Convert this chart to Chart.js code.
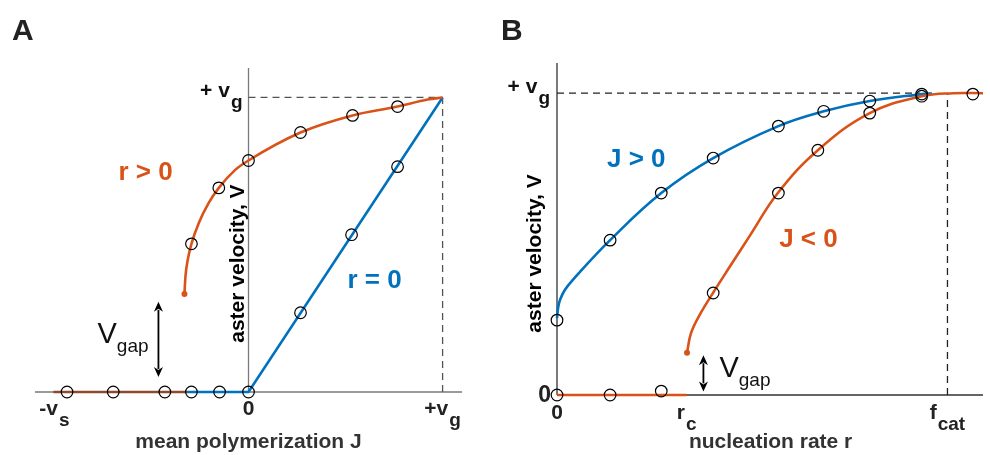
<!DOCTYPE html>
<html>
<head>
<meta charset="utf-8">
<script src="https://cdn.jsdelivr.net/npm/chart.js@4.4.0/dist/chart.umd.min.js"></script>
<style>
  html, body { margin: 0; padding: 0; background: #fff; }
  #wrap { position: relative; width: 990px; height: 455px; }
  .panel { position: absolute; top: 0; height: 455px; }
  #pa { left: 0; width: 490px; }
  #pb { left: 490px; width: 500px; }
</style>
</head>
<body>
<div id="wrap">
  <div class="panel" id="pa"><canvas id="chA"></canvas></div>
  <div class="panel" id="pb"><canvas id="chB"></canvas></div>
</div>
<script>
(function () {
  "use strict";

  // ---- panel A : aster velocity V vs mean polymerization J (units of v_g) ----
  var aCurveJ = [-0.330, -0.325, -0.313, -0.294, -0.256, -0.205, -0.153, -0.067, 0, 0.268, 0.536, 0.768, 0.923, 1];
  var aCurveV = [0.333, 0.391, 0.449, 0.503, 0.574, 0.642, 0.693, 0.755, 0.786, 0.881, 0.939, 0.969, 0.993, 1];
  var aLineJ = [-0.316, 0, 1];
  var aLineV = [0, 0, 1];
  var aStallJ = [-1.005, -0.316];
  var aStallV = [0, 0];
  var aSimJ = [-0.935, -0.697, -0.431, -0.294, -0.149, 0, -0.294, -0.153, 0, 0.268, 0.536, 0.768, 0.268, 0.531, 0.768];
  var aSimV = [0, 0, 0, 0, 0, 0, 0.503, 0.693, 0.786, 0.881, 0.939, 0.969, 0.269, 0.534, 0.765];
  var aTickVal = [-1, 0, 1];
  var aTickMain = ["-v", "0", "+v"];
  var aTickSub = ["s", "", "g"];
  var aGapJ = -0.464;
  var aGapV = [0.306, 0.051];

  // ---- panel B : aster velocity V vs nucleation rate r (units of f_cat) ----
  var bPlusR = [0, 0.003, 0.0076, 0.020, 0.040, 0.136, 0.267, 0.4, 0.567, 0.683, 0.801, 0.934, 0.96];
  var bPlusV = [0.255, 0.290, 0.315, 0.348, 0.381, 0.513, 0.669, 0.785, 0.891, 0.940, 0.974, 0.997, 1];
  var bMinusR = [0.333, 0.343, 0.364, 0.400, 0.444, 0.494, 0.566, 0.668, 0.801, 0.934, 1.015, 1.091];
  var bMinusV = [0.140, 0.204, 0.262, 0.339, 0.428, 0.528, 0.670, 0.811, 0.934, 0.990, 1, 1];
  var rc = 0.332;
  var bStallR = [0, rc];
  var bStallV = [0, 0];
  var bSimR = [0, 0.136, 0.267, 0, 0.136, 0.267, 0.4, 0.567, 0.683, 0.801, 0.934, 1.065, 0.4, 0.567, 0.668, 0.801, 0.934];
  var bSimV = [0, 0, 0.013, 0.248, 0.513, 0.669, 0.785, 0.891, 0.940, 0.974, 0.997, 0.997, 0.338, 0.669, 0.811, 0.934, 0.990];
  var bTickVal = [0, rc, 1];
  var bTickMain = ["0", "r", "f"];
  var bTickSub = ["", "c", "cat"];
  var bGapR = 0.375;
  var bGapV = [0.132, 0.012];

  var ORANGE = "#d95319", BLUE = "#0072bd", BROWN = "#8e4a2c";
  var FONT = "'Liberation Sans', Arial, Helvetica, sans-serif";

  function pts(xs, ys) {
    return xs.map(function (x, i) { return { x: x, y: ys[i] }; });
  }
  function font(size, bold) { return (bold ? "bold " : "") + size + "px " + FONT; }

  // text with a subscript, aligned as a group
  function subText(ctx, main, sub, x, y, o) {
    ctx.font = font(o.size, o.bold);
    var w1 = ctx.measureText(main).width;
    ctx.font = font(o.sub, o.bold);
    var w2 = sub ? ctx.measureText(sub).width : 0;
    var g = sub ? (o.gap || 0) : 0;
    var x0 = x;
    if (o.align === "center") x0 = x - (w1 + g + w2) / 2;
    else if (o.align === "right") x0 = x - (w1 + g + w2);
    ctx.textAlign = "left";
    ctx.textBaseline = "alphabetic";
    ctx.fillStyle = o.color || "#222";
    ctx.font = font(o.size, o.bold);
    ctx.fillText(main, x0, y);
    if (sub) {
      ctx.font = font(o.sub, o.bold);
      ctx.fillText(sub, x0 + w1 + g, y + o.drop);
    }
  }

  function dblArrow(ctx, x, yTop, yBot) {
    var h = 10, w = 4.5;
    ctx.save();
    ctx.strokeStyle = "#000";
    ctx.fillStyle = "#000";
    ctx.lineWidth = 1.8;
    ctx.beginPath(); ctx.moveTo(x, yTop + h - 2); ctx.lineTo(x, yBot - h + 2); ctx.stroke();
    ctx.beginPath(); ctx.moveTo(x, yTop); ctx.lineTo(x - w, yTop + h); ctx.lineTo(x, yTop + h - 3); ctx.lineTo(x + w, yTop + h); ctx.closePath(); ctx.fill();
    ctx.beginPath(); ctx.moveTo(x, yBot); ctx.lineTo(x - w, yBot - h); ctx.lineTo(x, yBot - h + 3); ctx.lineTo(x + w, yBot - h); ctx.closePath(); ctx.fill();
    ctx.restore();
  }

  function rotText(ctx, txt, x, y, size) {
    ctx.save();
    ctx.translate(x, y);
    ctx.rotate(-Math.PI / 2);
    ctx.font = font(size, true);
    ctx.fillStyle = "#000";
    ctx.textAlign = "center";
    ctx.textBaseline = "middle";
    ctx.fillText(txt, 0, 0);
    ctx.restore();
  }

  function deco(cfg) {
    return {
      id: "deco" + cfg.name,
      beforeDatasetsDraw: function (chart) {
        var ctx = chart.ctx, a = chart.chartArea;
        var X = function (v) { return chart.scales.x.getPixelForValue(v); };
        var Y = function (v) { return chart.scales.y.getPixelForValue(v); };
        ctx.save();
        ctx.strokeStyle = cfg.axisColor;
        ctx.lineWidth = 1.3;
        ctx.beginPath();
        ctx.moveTo(a.left, Y(0)); ctx.lineTo(a.right, Y(0));
        ctx.moveTo(X(0), Y(0)); ctx.lineTo(X(0), a.top);
        ctx.stroke();
        ctx.restore();
      },
      afterDatasetsDraw: function (chart) {
        var ctx = chart.ctx;
        var X = function (v) { return chart.scales.x.getPixelForValue(v); };
        var Y = function (v) { return chart.scales.y.getPixelForValue(v); };
        ctx.save();
        // panel letter
        ctx.font = font(30, true);
        ctx.fillStyle = "#222";
        ctx.textAlign = "left";
        ctx.textBaseline = "alphabetic";
        ctx.fillText(cfg.letter, cfg.letterX, 40);
        // x ticks
        cfg.tickVal.forEach(function (v, i) {
          subText(ctx, cfg.tickMain[i], cfg.tickSub[i], X(v), Y(0) + cfg.tickDy,
            { size: 21, sub: 19, bold: true, drop: 11, align: "center", gap: 1, color: "#222" });
        });
        // y ticks
        subText(ctx, "+ v", "g", X(0) - cfg.vgDx, Y(1) + cfg.vgDy,
          { size: 21, sub: 19, bold: true, drop: 11, align: "right", gap: 1, color: "#111" });
        if (cfg.zeroY) {
          ctx.font = font(23, true);
          ctx.fillStyle = "#222";
          ctx.textAlign = "right";
          ctx.textBaseline = "middle";
          ctx.fillText("0", X(0) - 6, Y(0) + 1);
        }
        // axis titles
        ctx.font = font(21, true);
        ctx.fillStyle = "#333";
        ctx.textAlign = "center";
        ctx.textBaseline = "alphabetic";
        ctx.fillText(cfg.xTitle, X(cfg.xTitleAt), 448);
        rotText(ctx, "aster velocity, V", X(0) + cfg.yTitleDx, Y(cfg.yTitleAt), 21);
        // series labels
        cfg.labels.forEach(function (l) {
          ctx.font = font(26, true);
          ctx.fillStyle = l.color;
          ctx.textAlign = "left";
          ctx.textBaseline = "alphabetic";
          ctx.fillText(l.text, X(l.x), Y(l.y));
        });
        // V gap
        dblArrow(ctx, X(cfg.gapX), Y(cfg.gapV[0]), Y(cfg.gapV[1]));
        subText(ctx, "V", "gap", X(cfg.gapLabel[0]), Y(cfg.gapLabel[1]),
          { size: 29, sub: 19, bold: false, drop: 9, align: "left", gap: 0, color: "#111" });
        ctx.restore();
      }
    };
  }

  function startDot(c) { return c.dataIndex === 0 ? 3 : 0; }

  function lineSet(data, color, order, extra) {
    var s = { data: data, showLine: true, borderColor: color, backgroundColor: color, borderWidth: 2.6,
      pointRadius: 0, tension: 0, clip: false, order: order };
    for (var k in extra) s[k] = extra[k];
    return s;
  }
  function simSet(data) {
    return { data: data, showLine: false, pointStyle: "circle", pointRadius: 5.8, borderWidth: 1.2,
      borderColor: "#000", backgroundColor: "rgba(0,0,0,0)", clip: false, order: 0 };
  }
  function dashSet(data, color) {
    return { data: data, showLine: true, borderColor: color, borderWidth: 1.3, borderDash: [7, 5],
      pointRadius: 0, clip: false, order: 5 };
  }

  function baseOptions(xmin, xmax, pad) {
    return {
      responsive: true,
      maintainAspectRatio: false,
      animation: false,
      events: [],
      layout: { padding: pad },
      plugins: { legend: { display: false }, tooltip: { enabled: false } },
      scales: {
        x: { type: "linear", min: xmin, max: xmax, display: false },
        y: { type: "linear", min: 0, max: 1.1, display: false }
      }
    };
  }

  new Chart(document.getElementById("chA"), {
    type: "scatter",
    data: {
      datasets: [
        simSet(pts(aSimJ, aSimV)),
        lineSet(pts(aCurveJ, aCurveV), ORANGE, 1, { cubicInterpolationMode: "monotone", pointRadius: startDot, pointBorderWidth: 0 }),
        lineSet(pts(aStallJ, aStallV), BROWN, 2, {}),
        lineSet(pts(aLineJ, aLineV), BLUE, 3, {}),
        dashSet(pts([0, 1], [1, 1]), "#555"),
        dashSet(pts([1, 1], [0, 1]), "#555")
      ]
    },
    options: baseOptions(-1.1, 1.1, { left: 35, right: 28, top: 68, bottom: 63 }),
    plugins: [deco({
      name: "A", letter: "A", letterX: 12, axisColor: "#7a7a7a",
      tickVal: aTickVal, tickMain: aTickMain, tickSub: aTickSub, tickDy: 23,
      vgDx: 6, vgDy: 0, zeroY: false,
      xTitle: "mean polymerization J", xTitleAt: 0, yTitleDx: -10, yTitleAt: 0.436,
      labels: [{ text: "r > 0", x: -0.67, y: 0.721, color: ORANGE }, { text: "r = 0", x: 0.51, y: 0.354, color: BLUE }],
      gapX: aGapJ, gapV: aGapV, gapLabel: [-0.778, 0.167]
    })]
  });

  new Chart(document.getElementById("chB"), {
    type: "scatter",
    data: {
      datasets: [
        simSet(pts(bSimR, bSimV)),
        lineSet(pts(bMinusR, bMinusV), ORANGE, 1, { tension: 0.4, pointRadius: startDot, pointBorderWidth: 0 }),
        lineSet(pts(bStallR, bStallV), ORANGE, 2, {}),
        lineSet(pts(bPlusR, bPlusV), BLUE, 3, { tension: 0.4 }),
        dashSet(pts([0, 0.93], [1, 1]), "#222"),
        dashSet(pts([1, 1], [0, 1]), "#222")
      ]
    },
    options: baseOptions(0, 1.091, { left: 67, right: 0, top: 63, bottom: 60 }),
    plugins: [deco({
      name: "B", letter: "B", letterX: 11, axisColor: "#333",
      tickVal: bTickVal, tickMain: bTickMain, tickSub: bTickSub, tickDy: 24,
      vgDx: 7, vgDy: 0, zeroY: true,
      xTitle: "nucleation rate r", xTitleAt: 0.547, yTitleDx: -22, yTitleAt: 0.469,
      labels: [{ text: "J > 0", x: 0.128, y: 0.755, color: BLUE }, { text: "J < 0", x: 0.569, y: 0.49, color: ORANGE }],
      gapX: bGapR, gapV: bGapV, gapLabel: [0.416, 0.06]
    })]
  });
})();
</script>
</body>
</html>
